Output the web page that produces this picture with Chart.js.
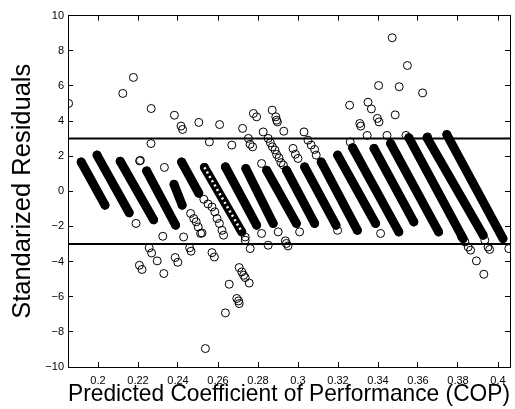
<!DOCTYPE html>
<html><head><meta charset="utf-8">
<script src="https://cdn.jsdelivr.net/npm/chart.js@4.4.1/dist/chart.umd.min.js"></script>
<style>html,body{margin:0;padding:0;background:#fff;}</style>
</head><body>
<canvas id="c" width="515" height="409" style="width:515px;height:409px;display:block"></canvas>
<script>
// ---- data ----
const xTicks = [0.2, 0.22, 0.24, 0.26, 0.28, 0.3, 0.32, 0.34, 0.36, 0.38, 0.4];
const xTickLabels = ["0.2","0.22","0.24","0.26","0.28","0.3","0.32","0.34","0.36","0.38","0.4"];
const yTicks = [-10, -8, -6, -4, -2, 0, 2, 4, 6, 8, 10];
const yTickLabels = ["\u221210","\u22128","\u22126","\u22124","\u22122","0","2","4","6","8","10"];
const xRange = [0.185, 0.406];
const yRange = [-10, 10];
const limitLines = [3, -3];

// dense bands of residuals (start = upper-left, end = lower-right)
const bandX0 = [0.1916,0.1995,0.2111,0.2243,0.2380,0.2418,0.2532,0.2637,0.2739,0.2843,0.2942,0.3033,0.3116,0.3198,0.3273,0.3380,0.3463,0.3554,0.3645,0.3744];
const bandY0 = [1.67,2.06,1.71,1.16,0.40,1.67,1.36,1.39,1.30,1.20,1.20,1.39,1.67,2.06,2.48,2.44,2.72,3.05,3.05,3.23];
const bandX1 = [0.2035,0.2156,0.2278,0.2388,0.2421,0.2504,0.2719,0.2793,0.2876,0.2992,0.3083,0.3190,0.3297,0.3388,0.3504,0.3579,0.3703,0.3826,0.3926,0.4025];
const bandY1 = [-0.79,-1.22,-1.62,-1.93,-0.79,-0.11,-2.31,-1.93,-1.83,-1.83,-1.83,-1.93,-2.22,-1.83,-2.31,-1.74,-2.31,-2.69,-2.50,-2.69];
const sparseBands = [6];

// individually visible points
const pointX = [0.1853,0.2124,0.2177,0.2266,0.2265,0.2382,0.2415,0.2423,0.2504,0.2557,0.2608,0.2669,0.2723,0.2752,0.2760,0.2773,0.2777,0.2793,0.2826,0.2871,0.2889,0.2893,0.2897,0.2929,0.3030,0.3050,0.3066,0.3083,0.3091,0.3258,0.3261,0.3309,0.3314,0.3346,0.3350,0.3367,0.3397,0.3403,0.3405,0.3445,0.3471,0.3486,0.3506,0.3540,0.3547,0.3623,0.3648,
 0.2851,0.2862,0.2872,0.2885,0.2893,0.2905,0.2915,0.2927,0.2818,0.2975,0.2987,0.3000,
 0.2208,0.2212,0.2332,0.2190,0.2324,0.2428,
 0.2463,0.2479,0.2491,0.2501,0.2513,0.2520,
 0.2529,0.2550,0.2570,0.2584,0.2595,0.2607,0.2620,0.2628,
 0.2736,0.2736,0.2761,
 0.2207,0.2220,0.2256,0.2268,0.2296,0.2329,0.2386,0.2399,0.2458,0.2465,0.2570,0.2582,0.2537,0.2637,0.2656,0.2694,0.2703,0.2706,0.2706,0.2719,0.2728,0.2736,0.2756,
 0.2818,0.2851,0.2901,0.2937,0.2942,0.2950,0.3008,0.3198,0.3413,
 0.3818,0.3835,0.3851,0.3863,0.3892,0.3929,0.3934,0.3950,0.3958,0.4054];
const pointY = [5.00,5.57,6.48,4.71,2.72,4.33,3.71,3.52,3.92,2.81,3.80,2.63,3.58,3.01,2.68,2.53,4.43,4.24,3.38,4.62,4.24,4.05,3.95,3.42,3.38,2.91,2.63,2.38,2.06,4.90,2.81,3.86,3.71,3.18,5.07,4.69,4.15,6.02,3.95,3.18,8.74,4.35,5.95,3.18,7.16,5.60,3.10,
 3.01,2.76,2.53,2.35,2.10,1.90,1.63,1.49,1.58,2.44,2.11,1.87,
 1.73,1.76,1.36,-1.83,-2.56,-2.60,
 -1.26,-1.55,-1.74,-2.03,-2.40,-2.37,
 -0.45,-0.72,-0.89,-1.17,-1.55,-1.83,-2.22,-2.50,
 -2.60,-2.78,-3.26,
 -4.21,-4.45,-3.22,-3.51,-3.96,-4.68,-3.77,-4.04,-3.22,-3.41,-3.49,-3.74,-8.95,-6.92,-5.29,-6.10,-6.24,-6.39,-4.34,-4.59,-4.78,-4.91,-5.22,
 -2.40,-3.07,-2.31,-2.82,-2.97,-3.11,-2.31,-2.22,-2.40,
 -2.60,-2.88,-3.17,-3.35,-3.96,-4.72,-2.78,-3.17,-3.31,-3.26];

// ---- chart ----
const FONT = "'Liberation Sans', Arial, Helvetica, sans-serif";
const datasets = [];
limitLines.forEach(v => datasets.push({
  data: [{x: xRange[0], y: v}, {x: xRange[1], y: v}],
  showLine: true, borderColor: '#000', borderWidth: 2, pointRadius: 0
}));
datasets.push({
  data: pointX.map((x, i) => ({x, y: pointY[i]})),
  showLine: false, pointRadius: 4, pointBorderWidth: 1,
  pointBorderColor: '#000', pointBackgroundColor: 'rgba(0,0,0,0)'
});
for (let i = 0; i < bandX0.length; i++) {
  const seg = [{x: bandX0[i], y: bandY0[i]}, {x: bandX1[i], y: bandY1[i]}];
  if (sparseBands.includes(i)) {
    datasets.push({ data: seg, showLine: true, borderColor: '#fff', borderWidth: 2.5,
      borderDash: [2, 3], pointRadius: 0 });
  }
  datasets.push({
    data: seg, showLine: true, borderColor: '#000', borderWidth: 9, borderCapStyle: 'round',
    pointRadius: 4, pointBorderWidth: 1, pointBorderColor: '#000', pointBackgroundColor: 'rgba(0,0,0,0)'
  });
}

// inward tick marks + box via the library's own axes (negative tick length)
const tickGrid = {display: true, drawOnChartArea: false, drawTicks: true, tickLength: -5, color: '#000', lineWidth: 1};
const boxBorder = {display: true, color: '#000', width: 1};
const setX = s => { s.ticks = xTicks.map(v => ({value: v})); };
const setY = s => { s.ticks = yTicks.map(v => ({value: v})); };

new Chart(document.getElementById('c'), {
  type: 'scatter',
  data: {datasets},
  options: {
    responsive: false, animation: false, devicePixelRatio: 1,
    layout: {padding: {top: 15, right: 1, left: 0, bottom: 0}},
    plugins: {legend: {display: false}, tooltip: {enabled: false}},
    scales: {
      x: {
        type: 'linear', position: 'bottom', min: xRange[0], max: xRange[1],
        afterBuildTicks: setX,
        afterFit: s => { s.height = 42; s.paddingLeft = 0; s.paddingRight = 0; },
        grid: tickGrid, border: boxBorder,
        ticks: {color: '#000', font: {family: FONT, size: 11}, padding: 12, maxRotation: 0,
          callback: v => { const i = xTicks.findIndex(q => Math.abs(q - v) < 1e-9); return i >= 0 ? xTickLabels[i] : ''; }},
        title: {display: true, text: 'Predicted Coefficient of Performance (COP)', color: '#000',
          font: {family: FONT, size: 24}, padding: {top: 0, bottom: 0}}
      },
      x2: {
        type: 'linear', axis: 'x', position: 'top', min: xRange[0], max: xRange[1],
        afterBuildTicks: setX,
        afterFit: s => { s.height = 0; s.paddingLeft = 0; s.paddingRight = 0; },
        grid: tickGrid, border: boxBorder,
        ticks: {display: false}
      },
      y: {
        type: 'linear', position: 'left', min: yRange[0], max: yRange[1],
        afterBuildTicks: setY,
        afterFit: s => { s.width = 68; },
        grid: tickGrid, border: boxBorder,
        ticks: {color: '#000', font: {family: FONT, size: 11}, padding: 9,
          callback: v => { const i = yTicks.indexOf(v); return i >= 0 ? yTickLabels[i] : ''; }},
        title: {display: true, text: 'Standarized Residuals', color: '#000',
          font: {family: FONT, size: 25.5}, padding: {top: 8, bottom: 0}}
      },
      y2: {
        type: 'linear', axis: 'y', position: 'right', min: yRange[0], max: yRange[1],
        afterBuildTicks: setY,
        afterFit: s => { s.width = 0; },
        grid: tickGrid, border: boxBorder,
        ticks: {display: false}
      }
    }
  }
});
</script>
</body></html>
